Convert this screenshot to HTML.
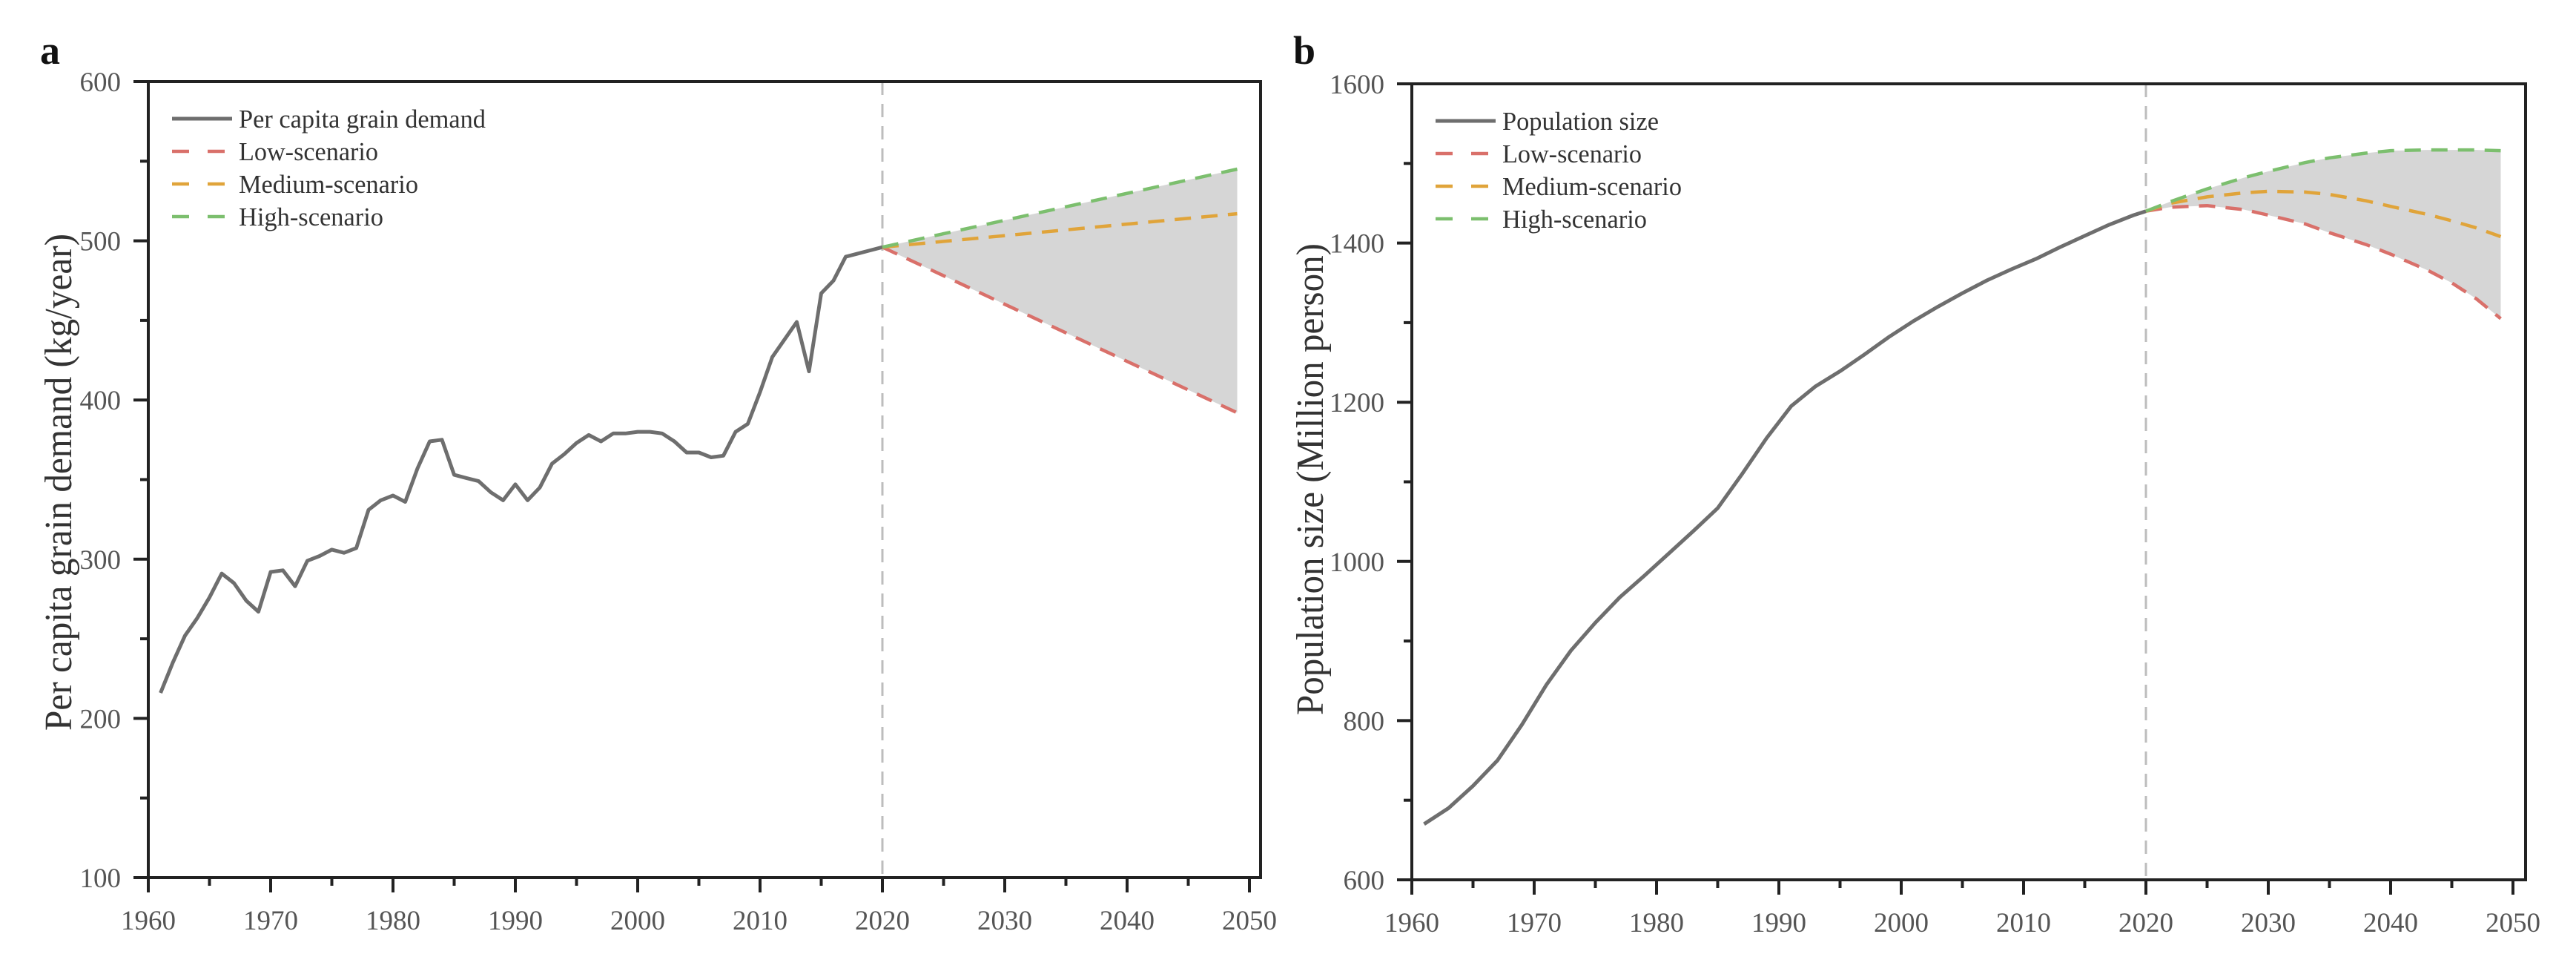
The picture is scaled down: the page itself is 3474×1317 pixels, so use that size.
<!DOCTYPE html>
<html><head><meta charset="utf-8">
<style>
html,body{margin:0;padding:0;background:#fff;}
svg{display:block;font-family:"Liberation Serif",serif;}
</style></head>
<body>
<svg id="chart" width="3474" height="1317" viewBox="0 0 3474 1317" xmlns="http://www.w3.org/2000/svg"></svg>
<script>
// ---- Panel a data ----
const yearsA = [1961,1962,1963,1964,1965,1966,1967,1968,1969,1970,1971,1972,1973,1974,1975,1976,1977,1978,1979,1980,1981,1982,1983,1984,1985,1986,1987,1988,1989,1990,1991,1992,1993,1994,1995,1996,1997,1998,1999,2000,2001,2002,2003,2004,2005,2006,2007,2008,2009,2010,2011,2012,2013,2014,2015,2016,2017,2018,2019,2020];
const grainDemand = [216,235,252,263,276,291,285,274,267,292,293,283,299,302,306,304,307,331,337,340,336,357,374,375,353,351,349,342,337,347,337,345,360,366,373,378,374,379,379,380,380,379,374,367,367,364,365,380,385,405,427,438,449,418,467,475,490,492,494,496];
const scenYearsA = [2020,2049];
const grainLow = [496,392];
const grainMed = [496,517];
const grainHigh = [496,545];
const yTicksA = [100,200,300,400,500,600];
// ---- Panel b data ----
const yearsB = [1961,1963,1965,1967,1969,1971,1973,1975,1977,1979,1981,1983,1985,1987,1989,1991,1993,1995,1997,1999,2001,2003,2005,2007,2009,2011,2013,2015,2017,2019,2020];
const population = [670,690,718,750,795,845,888,923,955,982,1010,1038,1067,1110,1155,1195,1220,1239,1260,1282,1302,1320,1337,1353,1367,1380,1395,1409,1423,1435,1440];
const scenYearsB = [2020,2022,2025,2028,2030,2033,2035,2038,2040,2043,2045,2047,2049];
const popLow = [1440,1445,1447,1442,1435,1424,1413,1398,1386,1366,1350,1330,1305];
const popMed = [1440,1450,1458,1463,1465,1464,1461,1453,1446,1436,1428,1419,1408];
const popHigh = [1440,1452,1468,1482,1490,1501,1507,1513,1516,1517,1517,1517,1516];
const yTicksB = [600,800,1000,1200,1400,1600];
const xTicks = [1960,1970,1980,1990,2000,2010,2020,2030,2040,2050];

const NS = "http://www.w3.org/2000/svg";
const svg = document.getElementById('chart');
function mk(tag, attrs, parent){
  const e = document.createElementNS(NS, tag);
  for (const k in attrs) e.setAttribute(k, attrs[k]);
  (parent||svg).appendChild(e);
  return e;
}
const COL = {grey:'#6e6e6e', low:'#d9706a', med:'#e0a43a', high:'#7cbf6e'};

function panel(o){
  const g = mk('g', {});
  
  
  const X = y => o.x0 + (y-1960)/90*(o.x1-o.x0);
  const Y = v => o.yb - (v-o.ymin)/(o.ymax-o.ymin)*(o.yb-o.yt);
  const pts = (xs, vs) => xs.map((x,i)=>X(x).toFixed(1)+','+Y(vs[i]).toFixed(1)).join(' ');
  const band = mk('polygon', {points: pts(o.sy, o.high)+' '+pts(o.sy.slice().reverse(), o.low.slice().reverse()), fill:'#d6d6d6'}, g);
  
  
  const vl = mk('line', {x1:X(2020), x2:X(2020), y1:o.yt, y2:o.yb, stroke:'#bdbdbd', 'stroke-width':3, 'stroke-dasharray':'18 12'}, g);
  
  
  const hl = mk('polyline', {points: pts(o.hx, o.hv), fill:'none', stroke:COL.grey, 'stroke-width':5, 'stroke-linejoin':'round'}, g);
  
  
  [['low',o.low],['med',o.med],['high',o.high]].forEach(([k,vs])=>{
    const l = mk('polyline', {points: pts(o.sy, vs), fill:'none', stroke:COL[k], 'stroke-width':4.5, 'stroke-dasharray':'22 14'}, g);
    
    
  });
  const fr = mk('rect', {x:o.x0, y:o.yt, width:o.xr-o.x0, height:o.yb-o.yt, fill:'none', stroke:'#222', 'stroke-width':4}, g);
  
  
  for (let y=1960; y<=2050; y+=5){
    const major = y%10===0;
    mk('line', {x1:X(y), x2:X(y), y1:o.yb, y2:o.yb+(major?20:11), stroke:'#222', 'stroke-width':4}, g);
  }
  xTicks.forEach(y=>{
    const t = mk('text', {x:X(y), y:o.yb+70, 'text-anchor':'middle', 'font-size':37, fill:'#555'}, g);
    t.textContent = y;
    
    
  });
  const step = (o.ymax-o.ymin)/10;
  for (let i=0;i<=10;i++){
    const v = o.ymin+i*step;
    mk('line', {x1:o.x0-(i%2===0?20:11), x2:o.x0, y1:Y(v), y2:Y(v), stroke:'#222', 'stroke-width':4}, g);
  }
  o.yt_labels.forEach(v=>{
    const t = mk('text', {x:o.x0-37, y:Y(v)+13, 'text-anchor':'end', 'font-size':37, fill:'#555'}, g);
    t.textContent = v;
    
    
  });
  const yt = mk('text', {x:0, y:0, transform:`translate(${o.titleX},${o.titleY}) rotate(-90)`, 'text-anchor':'middle', 'font-size':52, fill:'#333', textLength:o.titleLen, lengthAdjust:'spacingAndGlyphs'}, g);
  yt.textContent = o.ytitle;
  
  
  const pl = mk('text', {x:o.letterX, y:86, 'font-size':54, 'font-weight':'bold', fill:'#111'}, g);
  pl.textContent = o.letter;
  
  
  const lg = mk('g', {}, g);
  
  
  const lx = o.x0+32;
  const rows = [[o.legend0,COL.grey,false,o.legend0Len],['Low-scenario',COL.low,true,188],['Medium-scenario',COL.med,true,242],['High-scenario',COL.high,true,195]];
  rows.forEach((r,i)=>{
    const ly = o.yt+50+i*44;
    const ent = mk('g', {}, lg);
    
    
    if (r[2]){
      mk('line', {x1:lx, x2:lx+81, y1:ly, y2:ly, stroke:r[1], 'stroke-width':4.5, 'stroke-dasharray':'23 25'}, ent);
    } else {
      mk('line', {x1:lx, x2:lx+81, y1:ly, y2:ly, stroke:r[1], 'stroke-width':5}, ent);
    }
    const t = mk('text', {x:lx+90, y:ly+12, 'font-size':35, fill:'#333', textLength:r[3], lengthAdjust:'spacingAndGlyphs'}, ent);
    t.textContent = r[0];
  });
}

panel({name:'panel-a-grain-demand', x0:200, x1:1685, xr:1700, yt:110, yb:1183, ymin:100, ymax:600,
  hx:yearsA, hv:grainDemand, sy:scenYearsA, low:grainLow, med:grainMed, high:grainHigh,
  yt_labels:yTicksA, ytitle:'Per capita grain demand (kg/year)', titleX:96, titleY:650, titleLen:670, letter:'a', letterX:54,
  legend0:'Per capita grain demand', legend0Len:333});
panel({name:'panel-b-population', x0:1904, x1:3389, xr:3406, yt:113, yb:1186, ymin:600, ymax:1600,
  hx:yearsB, hv:population, sy:scenYearsB, low:popLow, med:popMed, high:popHigh,
  yt_labels:yTicksB, ytitle:'Population size (Million person)', titleX:1784, titleY:646, titleLen:636, letter:'b', letterX:1744,
  legend0:'Population size', legend0Len:211});
</script>
</body></html>
